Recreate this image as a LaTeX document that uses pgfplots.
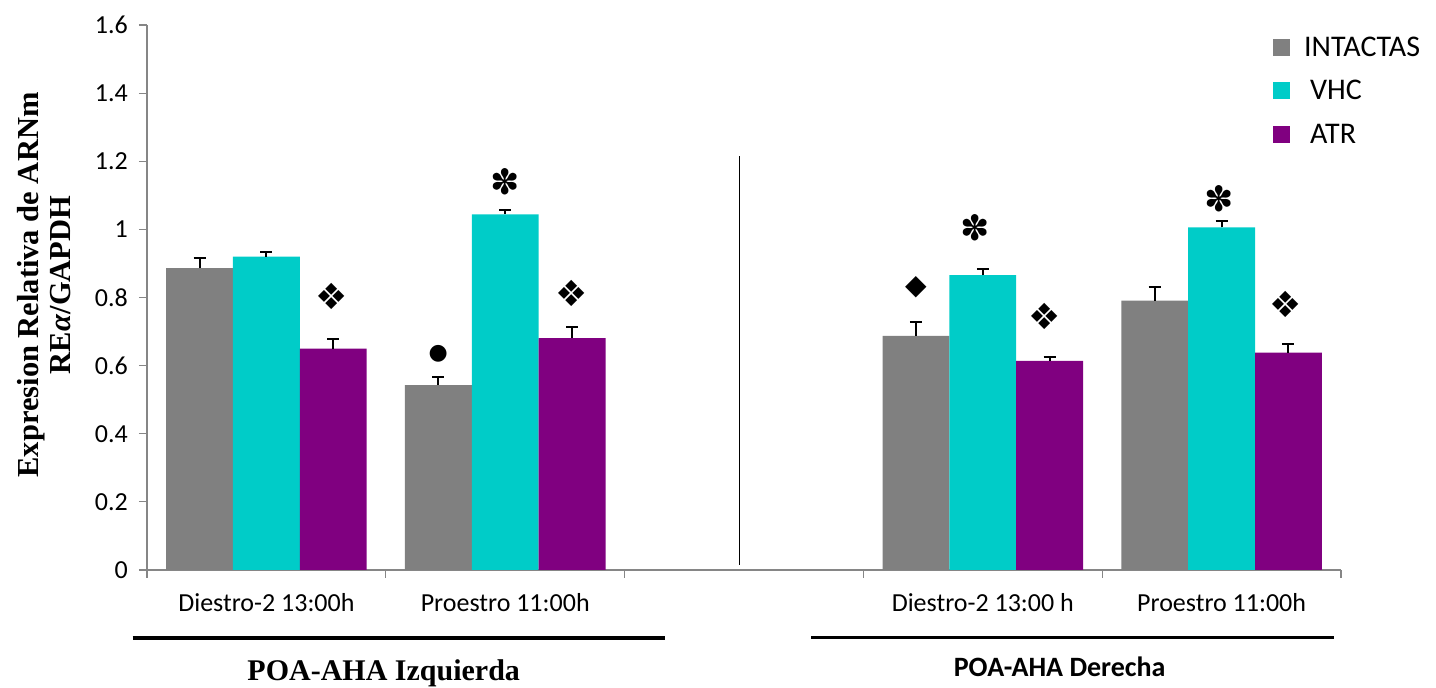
\documentclass[border=0pt]{standalone}
\usepackage{pgfplots}
\pgfplotsset{compat=1.18}
\usepackage{fontspec}
\setmainfont{Carlito}
\newfontfamily\serifbf{Liberation Serif}
\newfontfamily\dejavu{DejaVu Sans}
\definecolor{cGray}{RGB}{128,128,128}
\definecolor{cCyan}{RGB}{0,204,200}
\definecolor{cPurple}{RGB}{128,0,128}
\definecolor{cAxis}{RGB}{134,134,134}
\begin{document}
\begin{tikzpicture}
\path[use as bounding box] (0pt,0pt) rectangle (1436pt,688pt);
\begin{axis}[
  at={(147pt,118pt)}, anchor=south west,
  scale only axis, width=1194pt, height=545pt,
  xmin=-0.5, xmax=4.5, ymin=0, ymax=1.6,
  axis x line=bottom, axis y line=left,
  axis line style={-, cAxis, line width=1.2pt},
  tick style={cAxis, line width=1.2pt},
  tick align=outside, major tick length=8pt,
  xtick={-0.5,0.5,1.5,2.5,3.5,4.5}, xticklabels={},
  extra x ticks={0,1,3,4},
  extra x tick labels={Diestro-2 13:00h,Proestro 11:00h,Diestro-2 13:00 h,Proestro 11:00h},
  extra x tick style={major tick length=0pt, xticklabel style={anchor=center, yshift=-33pt}},
  ytick={0,0.2,0.4,0.6,0.8,1,1.2,1.4,1.6},
  /pgf/number format/assume math mode=true,
  /pgf/number format/fixed,
  ticklabel style={font=\fontsize{26}{30}\selectfont, text=black},
  yticklabel style={anchor=east, inner sep=0pt, xshift=-11pt},
  ylabel={Expresion Relativa de ARNm\\RE\textit{α}/GAPDH},
  ylabel style={font=\serifbf\bfseries\fontsize{30.5}{32}\selectfont, align=center,
    at={(axis description cs:-0.0863,0.523)}, anchor=center, rotate=0},
  ybar, bar width=0.28,
  error bars/error bar style={black, line width=2pt},
  error bars/error mark options={black, line width=2pt, mark size=6pt, rotate=90},
  legend style={draw=none, fill=none, inner sep=0pt, at={(axis description cs:0.943,0.9784)}, anchor=north west,
    font=\fontsize{30}{34}\selectfont, row sep=22.5pt, column sep=14pt, nodes={inner sep=0pt}},
  legend cell align=left,
  legend image code/.code={\fill[#1] (0pt,-8.5pt) rectangle (17pt,8.5pt);},
  clip=false,
]
\addplot[fill=cGray, draw=none, bar shift=-0.28, error bars/.cd, y dir=plus, y explicit]
  coordinates {(0,0.886)+-(0,0.031) (1,0.543)+-(0,0.025) (3,0.687)+-(0,0.041) (4,0.791)+-(0,0.041)};
\addlegendentry{INTACTAS}
\addplot[fill=cCyan, draw=none, bar shift=0, error bars/.cd, y dir=plus, y explicit]
  coordinates {(0,0.920)+-(0,0.014) (1,1.044)+-(0,0.012) (3,0.866)+-(0,0.018) (4,1.006)+-(0,0.019)};
\addlegendentry{\hspace{6pt}VHC}
\addplot[fill=cPurple, draw=none, bar shift=0.28, error bars/.cd, y dir=plus, y explicit]
  coordinates {(0,0.650)+-(0,0.028) (1,0.681)+-(0,0.033) (3,0.614)+-(0,0.010) (4,0.638)+-(0,0.026)};
\addlegendentry{\hspace{6pt}ATR}
\draw[black, line width=1.3pt] (axis cs:1.98,0.015) -- (axis cs:1.98,1.215);
\begin{scope}[every node/.style={font=\dejavu\fontsize{36}{36}\selectfont, inner sep=0pt, anchor=center}]
\node at (axis cs:0.273,0.802) {❖};
\node[font=\dejavu\fontsize{35}{35}\selectfont] at (axis cs:1.0,1.140) {✽};
\node[font=\dejavu\fontsize{22}{22}\selectfont] at (axis cs:0.72,0.636) {●};
\node at (axis cs:1.28,0.812) {❖};
\node[font=\dejavu\fontsize{28}{28}\selectfont] at (axis cs:2.72,0.829) {◆};
\node[font=\dejavu\fontsize{35}{35}\selectfont] at (axis cs:2.97,1.005) {✽};
\node at (axis cs:3.26,0.744) {❖};
\node[font=\dejavu\fontsize{35}{35}\selectfont] at (axis cs:3.99,1.091) {✽};
\node at (axis cs:4.27,0.780) {❖};
\end{scope}
\end{axis}
\draw[black, line width=3.5pt] (132.7pt,50pt) -- (664.5pt,50pt);
\draw[black, line width=3.5pt] (811pt,50.3pt) -- (1334pt,50.3pt);
\node[anchor=base, inner sep=0pt, font=\serifbf\bfseries\fontsize{30}{32}\selectfont] at (383.7pt,7.5pt) {POA-AHA Izquierda};
\node[anchor=base, inner sep=0pt, font=\bfseries\fontsize{28}{30}\selectfont] at (1059.7pt,11.3pt) {POA-AHA Derecha};
\end{tikzpicture}
\end{document}
